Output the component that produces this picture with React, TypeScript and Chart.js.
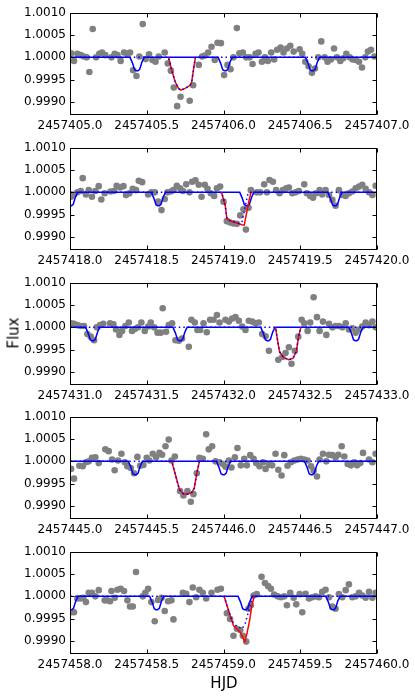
import { useEffect, useRef } from "react";
import { Chart, registerables } from "chart.js";
Chart.register(...registerables);

// ---------- DATA ----------
const panelStarts = [2457405.0, 2457418.0, 2457431.0, 2457445.0, 2457458.0];

const xTickLabels1 = ["2457405.0", "2457405.5", "2457406.0", "2457406.5", "2457407.0"];
const xTickLabels2 = ["2457418.0", "2457418.5", "2457419.0", "2457419.5", "2457420.0"];
const xTickLabels3 = ["2457431.0", "2457431.5", "2457432.0", "2457432.5", "2457433.0"];
const xTickLabels4 = ["2457445.0", "2457445.5", "2457446.0", "2457446.5", "2457447.0"];
const xTickLabels5 = ["2457458.0", "2457458.5", "2457459.0", "2457459.5", "2457460.0"];
const yTickLabels = ["1.0010", "1.0005", "1.0000", "0.9995", "0.9990"];
const yMin = 0.9987;
const yMax = 1.001;

// observations: [days since panel start, flux deviation in ppm]
const obs1: [number, number][] = [
  [0.007, 90], [0.026, -80], [0.048, 80], [0.07, 50], [0.091, 20], [0.109, 0], [0.126, -330], [0.148, 640],
  [0.17, 0], [0.191, 80], [0.209, 110], [0.23, 50], [0.27, 0], [0.291, 80], [0.309, 50], [0.33, -80],
  [0.352, 110], [0.374, 80], [0.391, 110], [0.411, -290], [0.433, -420], [0.452, 20], [0.474, 750], [0.493, -40],
  [0.515, 70], [0.537, -60], [0.557, -100], [0.578, 20], [0.617, 110], [0.637, -140], [0.657, -300], [0.676, -680],
  [0.698, -1100], [0.72, -890], [0.78, -980], [0.802, -630], [0.839, -170], [0.861, 20], [0.878, 40], [0.9, 110],
  [0.922, 240], [0.943, -60], [0.961, 330], [0.983, 320], [1.004, -400], [1.026, -170], [1.046, -270], [1.065, 0],
  [1.087, 660], [1.104, 90], [1.126, 110], [1.148, 0], [1.17, 0], [1.189, -150], [1.209, 80], [1.228, 110],
  [1.25, -100], [1.27, 0], [1.289, -80], [1.311, 110], [1.33, -50], [1.35, 170], [1.372, 220], [1.391, 110],
  [1.413, 200], [1.435, 260], [1.457, 130], [1.496, 180], [1.513, 80], [1.533, -100], [1.554, -200], [1.576, -350],
  [1.596, -250], [1.617, 0], [1.637, 360], [1.659, 0], [1.678, -100], [1.7, -50], [1.72, 200], [1.739, 0],
  [1.761, -80], [1.78, -20], [1.8, 80], [1.822, 0], [1.841, -50], [1.861, -60], [1.883, -100], [1.902, -230],
  [1.924, 0], [1.941, 130], [1.961, 170], [1.983, 20],
];
const obs2: [number, number][] = [
  [0.007, -100], [0.026, -50], [0.048, 0], [0.07, 30], [0.083, 320], [0.104, -50], [0.122, 50], [0.143, -100],
  [0.165, 30], [0.187, 140], [0.204, -160], [0.226, -20], [0.265, 20], [0.287, 30], [0.304, 150], [0.326, 110],
  [0.348, 140], [0.365, -60], [0.387, -20], [0.409, 80], [0.43, 50], [0.448, 260], [0.47, 230], [0.509, -50],
  [0.53, 0], [0.552, 0], [0.574, -210], [0.596, -400], [0.617, -150], [0.635, 0], [0.657, 20], [0.674, 50],
  [0.696, 150], [0.717, 90], [0.735, 30], [0.757, 180], [0.778, 0], [0.796, 240], [0.817, 270], [0.839, 170],
  [0.857, -100], [0.878, 170], [0.896, 80], [0.917, -20], [0.939, -80], [0.957, 90], [0.978, 130], [1.0, -210],
  [1.022, -650], [1.043, -680], [1.065, -700], [1.087, -710], [1.109, -520], [1.13, -380], [1.146, -840], [1.163, -350],
  [1.178, 50], [1.217, 0], [1.239, 0], [1.265, 180], [1.283, 0], [1.3, 280], [1.322, 240], [1.343, 50],
  [1.365, -20], [1.387, 50], [1.409, 90], [1.426, 110], [1.448, -20], [1.47, 0], [1.491, 30], [1.526, 180],
  [1.543, -20], [1.565, -80], [1.583, -120], [1.604, -20], [1.626, 50], [1.643, -50], [1.665, 50], [1.687, -60],
  [1.709, -170], [1.73, -300], [1.752, 50], [1.774, -60], [1.796, -80], [1.817, -20], [1.839, 20], [1.861, 90],
  [1.883, 130], [1.904, 170], [1.926, 80], [1.948, 0], [1.97, -60], [1.991, 150],
];
const obs3: [number, number][] = [
  [0.007, 90], [0.026, 80], [0.048, 50], [0.07, 30], [0.091, 30], [0.113, -150], [0.135, -210], [0.157, -290],
  [0.174, 0], [0.196, 50], [0.217, 80], [0.261, 90], [0.283, 70], [0.3, -50], [0.322, -170], [0.339, -80],
  [0.361, 30], [0.383, 110], [0.404, -80], [0.422, -40], [0.443, 0], [0.465, 110], [0.487, -80], [0.509, 20],
  [0.526, 110], [0.548, 0], [0.57, -120], [0.591, -120], [0.604, 430], [0.626, -100], [0.643, 50], [0.665, 90],
  [0.687, -290], [0.709, -300], [0.73, -250], [0.774, -440], [0.791, 170], [0.813, 110], [0.83, -60], [0.848, -60],
  [0.87, 90], [0.891, -110], [0.913, 170], [0.935, 170], [0.957, 280], [0.974, 110], [1.013, 170], [1.035, 130],
  [1.057, 200], [1.078, 230], [1.1, 150], [1.122, 20], [1.143, -60], [1.165, 150], [1.187, 130], [1.209, 90],
  [1.23, 110], [1.252, -150], [1.274, -200], [1.296, -530], [1.357, -730], [1.383, -670], [1.404, -580], [1.426, -450],
  [1.443, -820], [1.465, -530], [1.487, -210], [1.509, 170], [1.526, 90], [1.548, -80], [1.565, 110], [1.587, 680],
  [1.609, 230], [1.626, -80], [1.648, 130], [1.67, -170], [1.687, 80], [1.709, 0], [1.73, 30], [1.752, 30],
  [1.774, 0], [1.796, 90], [1.817, -50], [1.839, -20], [1.861, -120], [1.883, -50], [1.904, 20], [1.926, 110],
  [1.948, 50], [1.97, 130], [1.991, 0],
];
const obs4: [number, number][] = [
  [0.007, -170], [0.026, -390], [0.061, -100], [0.083, -110], [0.104, -20], [0.122, 0], [0.143, 80], [0.165, 90],
  [0.187, -40], [0.23, 270], [0.252, 230], [0.274, 40], [0.291, -200], [0.313, 20], [0.335, 170], [0.357, -20],
  [0.374, -110], [0.396, -150], [0.417, -270], [0.439, 100], [0.457, -100], [0.478, -80], [0.5, 80], [0.517, 20],
  [0.539, 170], [0.561, 90], [0.583, 190], [0.6, 150], [0.622, 340], [0.643, 490], [0.661, 20], [0.683, 110],
  [0.717, -670], [0.739, -770], [0.765, -670], [0.787, -910], [0.804, -740], [0.826, -270], [0.843, 80], [0.865, 60],
  [0.887, 610], [0.904, 270], [0.926, 340], [0.948, 0], [0.974, -20], [0.996, -60], [1.013, -120], [1.035, 20],
  [1.052, -140], [1.074, 90], [1.091, 300], [1.113, -90], [1.135, 60], [1.152, -90], [1.174, 140], [1.196, 60],
  [1.213, -40], [1.235, -110], [1.257, -20], [1.274, -170], [1.296, -80], [1.317, -90], [1.339, 170], [1.357, -190],
  [1.378, -320], [1.396, 140], [1.417, -100], [1.439, -20], [1.461, 20], [1.483, 40], [1.504, 60], [1.526, 40],
  [1.548, 20], [1.57, -110], [1.587, -210], [1.609, -340], [1.626, 40], [1.648, 170], [1.67, 0], [1.687, 150],
  [1.709, 140], [1.73, 90], [1.748, 150], [1.77, 340], [1.787, 110], [1.809, -60], [1.83, -90], [1.852, -20],
  [1.87, -90], [1.891, -40], [1.909, 190], [1.948, 40], [1.97, -20], [1.991, 170],
];
const obs5: [number, number][] = [
  [0.007, -360], [0.026, -360], [0.048, -50], [0.07, -50], [0.087, -30], [0.104, -130], [0.122, 80], [0.143, 80],
  [0.165, 0], [0.187, 140], [0.226, -90], [0.243, -90], [0.261, -110], [0.27, 120], [0.291, -30], [0.309, 150],
  [0.33, 170], [0.352, 120], [0.374, -90], [0.391, -230], [0.409, -230], [0.43, 550], [0.474, 0], [0.491, 80],
  [0.509, 170], [0.53, -130], [0.552, -560], [0.574, -80], [0.596, -30], [0.617, -330], [0.639, -110], [0.661, -90],
  [0.674, -520], [0.735, 80], [0.757, 60], [0.778, -130], [0.8, 200], [0.822, -20], [0.843, 150], [0.865, 80],
  [0.887, -50], [0.922, 80], [0.961, 150], [0.983, 170], [1.022, -380], [1.043, -510], [1.065, -890], [1.087, -730],
  [1.109, -760], [1.126, -890], [1.148, -1020], [1.163, -280], [1.178, -200], [1.196, 20], [1.217, 50], [1.248, 440],
  [1.27, 300], [1.291, 230], [1.309, 170], [1.33, 40], [1.352, 0], [1.374, -20], [1.396, 0], [1.413, -200],
  [1.435, 80], [1.457, -30], [1.474, -180], [1.496, 50], [1.513, -360], [1.535, 60], [1.557, -50], [1.578, -20],
  [1.6, 0], [1.622, -20], [1.643, 100], [1.665, 150], [1.687, -20], [1.709, -230], [1.73, -280], [1.752, 50],
  [1.774, -20], [1.796, 140], [1.817, 270], [1.839, -20], [1.861, 0], [1.883, 80], [1.904, 20], [1.926, -30],
  [1.948, 100], [1.97, -30], [1.991, 80],
];

// small-planet transit profile: [offset from mid-transit (days), ppm]
const smallDipShape: [number, number][] = [
  [-0.046, 0], [-0.03, -130], [-0.016, -280], [-0.005, -300], [0.006, -300], [0.017, -270], [0.031, -110], [0.046, 0],
];
const smallTransits1 = [0.437, 1.011, 1.58];
const smallTransits2 = [0.004, 0.576, 1.152, 1.726];
const smallTransits3 = [0.148, 0.717, 1.289, 1.863];
const smallTransits4 = [0.426, 1.0, 1.574];
const smallTransits5 = [0.006, 0.565, 1.141, 1.713];

// big-planet model (dotted) and combined model (red): [days since panel start, ppm]
const bigModel1: [number, number][] = [
  [0.641, 0], [0.663, -290], [0.685, -550], [0.707, -700], [0.722, -740], [0.75, -700], [0.783, -630], [0.793, -550], [0.804, -290], [0.817, 0],
];
const combined1: [number, number][] = bigModel1;
const bigModel2: [number, number][] = [
  [0.978, 0], [0.989, -20], [1.011, -290], [1.022, -590], [1.043, -640], [1.087, -690], [1.098, -700], [1.12, -670], [1.157, -60], [1.17, 0],
];
const combined2: [number, number][] = [
  [0.978, 0], [0.989, -20], [1.011, -290], [1.022, -590], [1.043, -640], [1.087, -690], [1.12, -730], [1.135, -740], [1.152, -440], [1.167, -170], [1.178, -10], [1.185, 0],
];
const bigModel3: [number, number][] = [
  [1.339, 0], [1.352, -290], [1.365, -550], [1.391, -680], [1.424, -730], [1.452, -700], [1.474, -550], [1.489, -210], [1.504, 0],
];
const combined3: [number, number][] = bigModel3;
const bigModel4: [number, number][] = [
  [0.663, 0], [0.678, -190], [0.696, -420], [0.713, -640], [0.739, -730], [0.765, -740], [0.793, -700], [0.809, -610], [0.826, -270], [0.843, 0],
];
const combined4: [number, number][] = bigModel4;
const bigModel5: [number, number][] = [
  [1.004, 0], [1.022, -200], [1.054, -550], [1.087, -680], [1.12, -730], [1.141, -620], [1.159, -390], [1.174, -200], [1.189, 0],
];
const combined5: [number, number][] = [
  [1.004, 0], [1.022, -200], [1.054, -550], [1.065, -660], [1.109, -810], [1.13, -960], [1.139, -1020], [1.152, -850], [1.17, -550], [1.185, -200], [1.2, 0],
];

const panels = [
  { start: panelStarts[0], xLabels: xTickLabels1, obs: obs1, small: smallTransits1, big: bigModel1, comb: combined1 },
  { start: panelStarts[1], xLabels: xTickLabels2, obs: obs2, small: smallTransits2, big: bigModel2, comb: combined2 },
  { start: panelStarts[2], xLabels: xTickLabels3, obs: obs3, small: smallTransits3, big: bigModel3, comb: combined3 },
  { start: panelStarts[3], xLabels: xTickLabels4, obs: obs4, small: smallTransits4, big: bigModel4, comb: combined4 },
  { start: panelStarts[4], xLabels: xTickLabels5, obs: obs5, small: smallTransits5, big: bigModel5, comb: combined5 },
];

// ---------- LAYOUT ----------
const W = 415;
const PANEL_H = 135;
const panelTops = [0, 135, 270, 404, 539];
const FONT = "'DejaVu Sans', sans-serif";

const framePlugin = {
  id: "frameTicks",
  afterDatasetsDraw(chart: any) {
    const { ctx, chartArea: a, scales } = chart;
    ctx.save();
    ctx.strokeStyle = "#000";
    ctx.lineWidth = 1;
    const L = Math.round(a.left) + 0.5;
    const R = Math.round(a.right) - 0.5;
    const T = Math.round(a.top) + 0.5;
    const B = Math.round(a.bottom) - 0.5;
    ctx.strokeRect(L, T, R - L, B - T);
    ctx.beginPath();
    const tl = 4;
    scales.x.ticks.forEach((t: any) => {
      const x = Math.round(scales.x.getPixelForValue(t.value)) + 0.5;
      ctx.moveTo(x, B);
      ctx.lineTo(x, B - tl);
      ctx.moveTo(x, T);
      ctx.lineTo(x, T + tl);
    });
    scales.y.ticks.forEach((t: any) => {
      const y = Math.round(scales.y.getPixelForValue(t.value)) + 0.5;
      ctx.moveTo(L, y);
      ctx.lineTo(L + tl, y);
      ctx.moveTo(R, y);
      ctx.lineTo(R - tl, y);
    });
    ctx.stroke();
    ctx.restore();
  },
};

const toXY = (start: number, arr: [number, number][]) =>
  arr.map(([dt, ppm]) => ({ x: start + dt, y: 1 + ppm * 1e-6 }));

function Panel({ idx }: { idx: number }) {
  const ref = useRef<HTMLCanvasElement | null>(null);
  useEffect(() => {
    const p = panels[idx];
    const xVals = p.xLabels.map((s) => parseFloat(s));
    const yVals = yTickLabels.map((s) => parseFloat(s));

    const smallLine: [number, number][] = [[-0.2, 0]];
    p.small.forEach((t) => smallDipShape.forEach(([o, v]) => smallLine.push([t + o, v])));
    smallLine.push([2.2, 0]);
    const bigLine: [number, number][] = [[-0.2, 0], ...p.big, [2.2, 0]];

    const chart = new Chart(ref.current as HTMLCanvasElement, {
      type: "scatter",
      data: {
        datasets: [
          {
            data: toXY(p.start, bigLine),
            showLine: true,
            borderColor: "#0000ff",
            borderWidth: 1.5,
            borderDash: [1.5, 3],
            pointRadius: 0,
            clip: 0,
            order: 0,
          } as any,
          {
            data: toXY(p.start, p.comb),
            showLine: true,
            borderColor: "#ff0000",
            borderWidth: 1.5,
            pointRadius: 0,
            clip: 0,
            order: 1,
          },
          {
            data: toXY(p.start, smallLine),
            showLine: true,
            borderColor: "#0000ff",
            borderWidth: 1.5,
            pointRadius: 0,
            clip: 0,
            order: 2,
          },
          {
            data: toXY(p.start, p.obs),
            backgroundColor: "#808080",
            borderWidth: 0,
            pointRadius: 3.3,
            clip: 0,
            order: 3,
          },
        ],
      },
      options: {
        responsive: false,
        animation: false,
        events: [],
        layout: { padding: { left: 0, right: 38, top: 13, bottom: 0 } },
        plugins: { legend: { display: false }, tooltip: { enabled: false } },
        scales: {
          x: {
            type: "linear",
            min: xVals[0],
            max: xVals[xVals.length - 1],
            grid: { display: false, drawTicks: false },
            border: { display: false },
            afterBuildTicks: (s: any) => {
              s.ticks = xVals.map((v) => ({ value: v }));
            },
            afterFit: (s: any) => {
              s.height = 20;
            },
            ticks: {
              autoSkip: false,
              maxRotation: 0,
              padding: 4,
              color: "#000",
              font: { family: FONT, size: 12 },
              callback: (_v: any, i: number) => p.xLabels[i],
            },
          },
          y: {
            type: "linear",
            min: yMin,
            max: yMax,
            grid: { display: false, drawTicks: false },
            border: { display: false },
            afterBuildTicks: (s: any) => {
              s.ticks = yVals.map((v) => ({ value: v }));
            },
            afterFit: (s: any) => {
              s.width = 70;
            },
            ticks: {
              autoSkip: false,
              padding: 4,
              color: "#000",
              font: { family: FONT, size: 12 },
              callback: (_v: any, i: number) => yTickLabels[i],
            },
          },
        },
      },
      plugins: [framePlugin],
    });
    return () => chart.destroy();
  }, [idx]);
  return (
    <div style={{ position: "absolute", left: 0, top: panelTops[idx], width: W, height: PANEL_H }}>
      <canvas ref={ref} width={W} height={PANEL_H} style={{ display: "block" }} />
    </div>
  );
}

export default function App() {
  return (
    <div
      style={{
        position: "absolute",
        left: 0,
        top: 0,
        width: W,
        height: 697,
        background: "#fff",
        fontFamily: FONT,
      }}
    >
      {panels.map((_, i) => (
        <Panel key={i} idx={i} />
      ))}
      <div
        style={{
          position: "absolute",
          left: 14,
          top: 333,
          transform: "translate(-50%, -50%) rotate(-90deg)",
          fontSize: 15,
          color: "#000",
          whiteSpace: "nowrap",
          lineHeight: 1,
        }}
      >
        Flux
      </div>
      <div
        style={{
          position: "absolute",
          left: 224,
          top: 683,
          transform: "translate(-50%, -50%)",
          fontSize: 15,
          color: "#000",
          whiteSpace: "nowrap",
          lineHeight: 1,
        }}
      >
        HJD
      </div>
    </div>
  );
}
